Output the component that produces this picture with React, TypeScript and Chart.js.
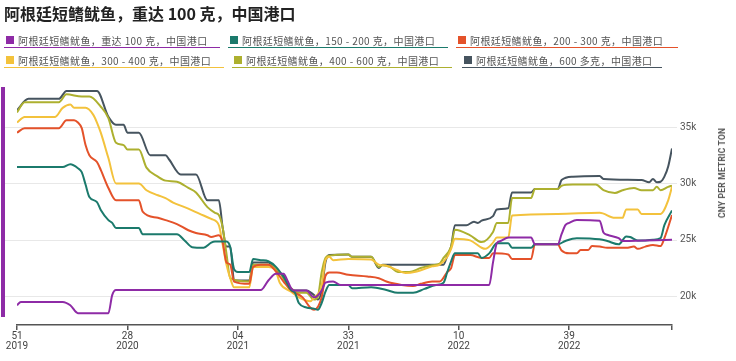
import React, { useEffect, useRef } from 'react';
import { Chart, registerables } from 'chart.js';

Chart.register(...registerables);

// x = week index counted from week 51 of 2019
const tickWeeks = [0, 29, 58, 87, 116, 145, 172];
const tickWeekLabels = ['51', '28', '04', '33', '10', '39', ''];
const tickYearLabels = ['2019', '2020', '2021', '2021', '2022', '2022', ''];
const yTicks = [20000, 25000, 30000, 35000];

const seriesNames = [
  '阿根廷短鳍鱿鱼，重达 100 克，中国港口',
  '阿根廷短鳍鱿鱼，150 - 200 克，中国港口',
  '阿根廷短鳍鱿鱼，200 - 300 克，中国港口',
  '阿根廷短鳍鱿鱼，300 - 400 克，中国港口',
  '阿根廷短鳍鱿鱼，400 - 600 克，中国港口',
  '阿根廷短鳍鱿鱼，600 多克，中国港口',
];
const seriesColors = ['#8e2ba6', '#1b7a6c', '#e4522a', '#f3c23c', '#adb02f', '#46545f'];

const purple100: [number, number][] = [
  [0, 19200], [1, 19500], [12, 19500], [14, 19200], [16, 18500], [24, 18500], [25, 20100], [26, 20550],
  [64, 20550], [66, 21400], [68, 22000], [70, 22000], [71, 21400], [72, 20700], [73, 20500], [76, 20500],
  [78, 19900], [80, 20500], [81, 21200], [83, 21300], [85, 21000], [124, 21000], [125, 23000], [126, 24700],
  [127, 24900], [129, 25200], [135, 25200], [136, 24600], [142, 24600], [143, 25500], [144, 26300],
  [145, 26500], [147, 26750], [153, 26700], [154, 25650], [155, 25450], [158, 25150], [159, 24900], [172, 25000],
];
const teal150: [number, number][] = [
  [0, 31450], [12, 31450], [14, 31700], [16, 31350], [17, 31000], [18, 29900], [19, 28800], [21, 28350],
  [22, 27650], [24, 26750], [25, 26500], [26, 26050], [32, 26050], [33, 25500], [42, 25500], [44, 24950],
  [46, 24350], [49, 24300], [51, 24750], [52, 24850], [55, 24850], [56, 24350], [57, 22400], [58, 22150],
  [61, 22150], [62, 23300], [64, 23200], [66, 23100], [68, 22600], [70, 21700], [72, 20550], [73, 20300],
  [74, 19400], [76, 19000], [78, 18900], [79, 18800], [80, 19400], [81, 20400], [82, 21000], [87, 21000],
  [88, 20700], [93, 20800], [97, 20550], [100, 20300], [104, 20300], [107, 20650], [110, 21000], [112, 21200],
  [113, 22150], [114, 23100], [115, 23800], [121, 23800], [122, 23400], [124, 23800], [126, 24700], [129, 24700],
  [130, 24300], [135, 24300], [136, 24600], [142, 24600], [144, 24900], [147, 25150], [153, 25050], [155, 24900],
  [158, 24600], [160, 25300], [161, 25250], [163, 24950], [165, 24950], [167, 25000], [169, 25150], [170, 26300],
  [172, 27600],
];
const orange200: [number, number][] = [
  [0, 34500], [2, 34900], [11, 34900], [13, 35600], [15, 35600], [16, 35400], [17, 34900], [18, 33400],
  [19, 32500], [21, 31900], [22, 31200], [24, 29600], [26, 28500], [32, 28500], [33, 27500], [37, 26950],
  [39, 26750], [42, 26400], [45, 25850], [47, 25600], [50, 25400], [51, 25250], [53, 25400], [54, 24800],
  [55, 23000], [56, 22800], [57, 21300], [61, 21100], [62, 22600], [64, 22800], [66, 22800], [68, 22200],
  [70, 21300], [72, 20500], [75, 19900], [77, 19000], [78, 18800], [80, 19900], [81, 21800], [82, 22100],
  [84, 22100], [87, 21900], [92, 21750], [95, 21600], [97, 21300], [101, 21000], [104, 20900], [106, 21100],
  [109, 21300], [111, 21300], [113, 22150], [114, 22500], [115, 23650], [119, 23650], [122, 23400], [124, 23400],
  [125, 23800], [129, 23700], [130, 23300], [135, 23300], [136, 24600], [142, 24600], [143, 24050], [145, 23800],
  [147, 23800], [148, 24100], [150, 24100], [151, 24450], [153, 24400], [155, 24300], [160, 24300], [162, 24400],
  [163, 24200], [165, 24400], [167, 24550], [169, 24450], [170, 25150], [172, 27200],
];
const yellow300: [number, number][] = [
  [0, 35400], [2, 35900], [10, 35900], [12, 36700], [14, 37000], [15, 36700], [18, 36700], [20, 36100],
  [21, 35400], [22, 34500], [24, 32250], [26, 30000], [32, 30000], [34, 29400], [37, 28950], [39, 28700],
  [41, 28300], [44, 27900], [48, 27300], [51, 26850], [53, 26300], [54, 24600], [55, 22800], [56, 21600],
  [57, 20800], [61, 20800], [62, 22600], [66, 22600], [68, 22200], [69, 21200], [72, 20400], [74, 19900],
  [77, 19550], [78, 19900], [80, 20900], [81, 23200], [82, 23500], [83, 23200], [87, 23300], [93, 23250],
  [95, 22800], [97, 22700], [100, 22300], [102, 22050], [105, 22200], [109, 22650], [111, 22800], [113, 23500],
  [114, 24200], [115, 25100], [119, 24950], [122, 24300], [123, 24200], [125, 24750], [126, 25200], [129, 25200],
  [130, 27150], [142, 27300], [153, 27400], [157, 26950], [159, 26950], [160, 27700], [163, 27700], [164, 27300],
  [169, 27300], [171, 28500], [172, 29700],
];
const olive400: [number, number][] = [
  [0, 36300], [2, 37200], [11, 37200], [13, 37900], [17, 37700], [19, 37700], [22, 36800], [24, 35800],
  [26, 33600], [28, 33400], [29, 33000], [32, 33000], [34, 31400], [37, 30600], [39, 30250], [42, 30150],
  [45, 29600], [47, 29200], [50, 27900], [52, 27400], [53, 27200], [54, 26100], [55, 23800], [56, 21600],
  [61, 21300], [62, 22800], [66, 22800], [69, 22100], [71, 21000], [72, 20700], [74, 20300], [76, 20300],
  [78, 19700], [79, 19950], [80, 22100], [81, 23400], [82, 23600], [87, 23700], [88, 23500], [93, 23500],
  [95, 22600], [96, 22750], [98, 22600], [100, 22150], [103, 22150], [106, 22500], [109, 22750], [111, 22900],
  [112, 23400], [114, 24400], [115, 25900], [119, 25400], [122, 24800], [125, 25700], [126, 26500], [129, 26500],
  [130, 28700], [135, 28700], [136, 29500], [142, 29500], [143, 29800], [146, 29900], [152, 29900], [154, 29400],
  [157, 29150], [159, 29400], [162, 29600], [164, 29400], [167, 29400], [168, 29700], [169, 29400], [171, 29700],
  [172, 29800],
];
const slate600: [number, number][] = [
  [0, 36500], [3, 37500], [11, 37500], [13, 38200], [21, 38200], [24, 35900], [26, 35200], [28, 35200],
  [29, 34500], [32, 34500], [35, 32500], [39, 32500], [40, 32100], [43, 30800], [47, 30800], [50, 28500],
  [53, 28500], [54, 26100], [55, 24400], [56, 24400], [57, 21400], [61, 21400], [62, 23000], [66, 23000],
  [68, 22300], [70, 21800], [72, 20500], [76, 20500], [78, 20100], [79, 19700], [80, 20500], [81, 23000],
  [82, 23650], [87, 23700], [88, 23500], [93, 23500], [95, 22500], [96, 22800], [112, 22800], [113, 23600],
  [114, 24400], [115, 26300], [118, 26300], [120, 26600], [121, 26500], [122, 26700], [125, 27100], [126, 27700],
  [129, 27800], [130, 29200], [135, 29200], [136, 29500], [142, 29500], [143, 30300], [146, 30600], [153, 30650],
  [154, 30400], [164, 30300], [166, 30100], [167, 30400], [168, 30100], [169, 30150], [170, 30600], [171, 31500],
  [172, 33100],
];

const seriesData = [purple100, teal150, orange200, yellow300, olive400, slate600];

const legendBoxes = [
  { left: 4, top: 33, width: 216 },
  { left: 228, top: 33, width: 220 },
  { left: 456, top: 33, width: 222 },
  { left: 4, top: 53, width: 220 },
  { left: 232, top: 53, width: 220 },
  { left: 462, top: 53, width: 200 },
];

const gridPlugin = {
  id: 'hgrid',
  beforeDatasetsDraw(chart: any) {
    const { ctx } = chart;
    const ys = chart.scales.y;
    ctx.save();
    ctx.strokeStyle = '#e8e8e8';
    ctx.lineWidth = 1;
    yTicks.forEach((v) => {
      const py = Math.round(ys.getPixelForValue(v)) + 0.5;
      ctx.beginPath();
      ctx.moveTo(5, py);
      ctx.lineTo(677, py);
      ctx.stroke();
    });
    ctx.restore();
  },
};

export default function App() {
  const ref = useRef<HTMLCanvasElement | null>(null);

  useEffect(() => {
    if (!ref.current) return;
    const chart = new Chart(ref.current, {
      type: 'line',
      data: {
        datasets: seriesData.map((s, i) => ({
          label: seriesNames[i],
          data: s.map(([x, y]) => ({ x, y })),
          borderColor: seriesColors[i],
          backgroundColor: seriesColors[i],
          borderWidth: 2,
          pointRadius: 0,
          fill: false,
          cubicInterpolationMode: 'monotone' as const,
        })),
      },
      options: {
        animation: false,
        responsive: false,
        maintainAspectRatio: false,
        layout: { padding: { top: 87, left: 17, right: 0, bottom: 0 } },
        plugins: { legend: { display: false }, tooltip: { enabled: false } },
        scales: {
          x: {
            type: 'linear',
            min: 0,
            max: 172,
            afterFit: (s: any) => {
              s.height = 36;
            },
            afterBuildTicks: (s: any) => {
              s.ticks = tickWeeks.map((v) => ({ value: v }));
            },
            border: { display: true, color: '#555', width: 1.5 },
            grid: { drawOnChartArea: false, drawTicks: true, tickLength: 5, color: '#555', lineWidth: 1.5 },
            ticks: {
              autoSkip: false,
              maxRotation: 0,
              padding: 1,
              color: '#444',
              font: { size: 10, family: 'Roboto', lineHeight: 1.05 },
              callback: (_v: any, i: number) =>
                tickWeekLabels[i] ? [tickWeekLabels[i], tickYearLabels[i]] : '',
            },
          },
          y: {
            type: 'linear',
            position: 'right',
            min: 17450,
            max: 38550,
            afterFit: (s: any) => {
              s.width = 64;
            },
            afterBuildTicks: (s: any) => {
              s.ticks = yTicks.map((v) => ({ value: v }));
            },
            border: { display: false },
            grid: { display: false, drawTicks: false },
            ticks: {
              padding: 8,
              color: '#555',
              font: { size: 10, family: 'Roboto' },
              callback: (v: any) => `${Number(v) / 1000}k`,
            },
          },
        },
      },
      plugins: [gridPlugin],
    } as any);
    return () => chart.destroy();
  }, []);

  return (
    <div
      style={{
        position: 'fixed',
        left: 0,
        top: 0,
        width: 736,
        height: 361,
        background: '#fff',
        overflow: 'hidden',
        fontFamily: '"Noto Sans CJK SC", "Noto Sans", sans-serif',
      }}
    >
      <canvas ref={ref} width={736} height={361} style={{ position: 'absolute', left: 0, top: 0, width: 736, height: 361 }} />
      <div
        style={{
          position: 'absolute',
          left: 4,
          top: 2,
          fontSize: 16,
          lineHeight: '22px',
          fontWeight: 700,
          color: '#222',
          whiteSpace: 'nowrap',
        }}
      >
        阿根廷短鳍鱿鱼，重达 100 克，中国港口
      </div>
      {legendBoxes.map((b, i) => (
        <div
          key={i}
          style={{
            position: 'absolute',
            left: b.left,
            top: b.top,
            width: b.width,
            height: 15,
            borderBottom: `1.5px solid ${seriesColors[i]}`,
            display: 'flex',
            alignItems: 'center',
            whiteSpace: 'nowrap',
            boxSizing: 'border-box',
          }}
        >
          <span style={{ display: 'inline-block', width: 8, height: 8, background: seriesColors[i], marginLeft: 2, marginRight: 4 }} />
          <span style={{ fontSize: 10, color: '#555', letterSpacing: 0.4 }}>{seriesNames[i]}</span>
        </div>
      ))}
      <div style={{ position: 'absolute', left: 1, top: 87, width: 3.5, height: 230, background: seriesColors[0] }} />
      <div
        style={{
          position: 'absolute',
          left: 722,
          top: 173,
          transform: 'translate(-50%, -50%) rotate(-90deg)',
          fontSize: 8.5,
          fontWeight: 700,
          color: '#555',
          whiteSpace: 'nowrap',
          fontFamily: 'Roboto, sans-serif',
          letterSpacing: 0.2,
        }}
      >
        CNY PER METRIC TON
      </div>
    </div>
  );
}
